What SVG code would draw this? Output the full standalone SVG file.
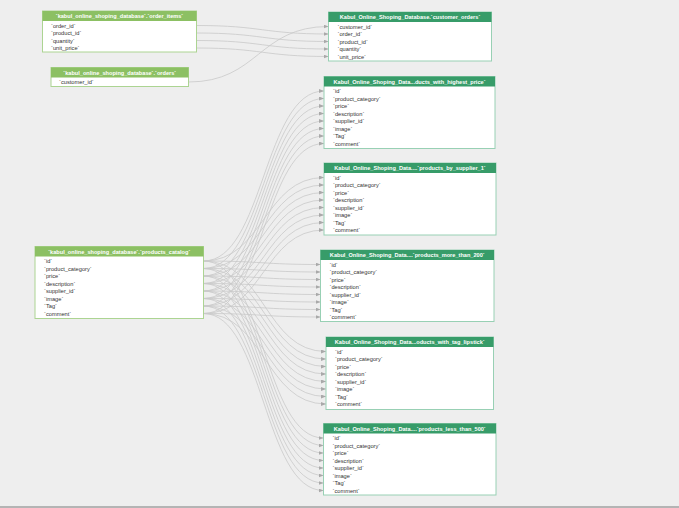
<svg xmlns="http://www.w3.org/2000/svg" width="679" height="508" viewBox="0 0 679 508">
<style>
.hdrL{fill:#8cc063}
.hdrR{fill:#379c69}
.bodyL{fill:#ffffff;stroke:#acd492;stroke-width:1}
.bodyR{fill:#ffffff;stroke:#98d0b4;stroke-width:1}
.ht{font-family:"Liberation Sans",Arial,sans-serif;font-size:5.6px;font-weight:bold;fill:#ffffff;text-anchor:middle}
.rt{font-family:"Liberation Sans",Arial,sans-serif;font-size:5.7px;fill:#333333}
.c{fill:none;stroke:#c9c9c9;stroke-width:0.8;marker-end:url(#arr)}
</style>
<defs>
<marker id="arr" markerWidth="5" markerHeight="4" refX="5" refY="2" orient="auto" markerUnits="userSpaceOnUse"><path d="M0,0 L5,2 L0,4 z" fill="#a9a9a9"/></marker>
</defs>
<rect x="0" y="0" width="679" height="508" fill="#eeeeee"/>
<rect x="0" y="506" width="679" height="2" fill="#b4b4b4"/>
<g id="connectors">
<path class="c" d="M196.5,25.5 C262.5,25.5 262.5,34 328.5,34"/>
<path class="c" d="M196.5,33 C262.5,33 262.5,41.5 328.5,41.5"/>
<path class="c" d="M196.5,40.5 C262.5,40.5 262.5,49 328.5,49"/>
<path class="c" d="M196.5,48 C262.5,48 262.5,56.5 328.5,56.5"/>
<path class="c" d="M188.5,82 C258.5,82 258.5,26.5 328.5,26.5"/>
<path class="c" d="M203.5,261 C263.75,261 263.75,91 324,91"/>
<path class="c" d="M203.5,268.5 C263.75,268.5 263.75,98.5 324,98.5"/>
<path class="c" d="M203.5,276 C263.75,276 263.75,106 324,106"/>
<path class="c" d="M203.5,283.5 C263.75,283.5 263.75,113.5 324,113.5"/>
<path class="c" d="M203.5,291 C263.75,291 263.75,121 324,121"/>
<path class="c" d="M203.5,298.5 C263.75,298.5 263.75,128.5 324,128.5"/>
<path class="c" d="M203.5,306 C263.75,306 263.75,136 324,136"/>
<path class="c" d="M203.5,313.5 C263.75,313.5 263.75,143.5 324,143.5"/>
<path class="c" d="M203.5,261 C263.75,261 263.75,177.5 324,177.5"/>
<path class="c" d="M203.5,268.5 C263.75,268.5 263.75,185 324,185"/>
<path class="c" d="M203.5,276 C263.75,276 263.75,192.5 324,192.5"/>
<path class="c" d="M203.5,283.5 C263.75,283.5 263.75,200 324,200"/>
<path class="c" d="M203.5,291 C263.75,291 263.75,207.5 324,207.5"/>
<path class="c" d="M203.5,298.5 C263.75,298.5 263.75,215 324,215"/>
<path class="c" d="M203.5,306 C263.75,306 263.75,222.5 324,222.5"/>
<path class="c" d="M203.5,313.5 C263.75,313.5 263.75,230 324,230"/>
<path class="c" d="M203.5,261 C262,261 262,264.5 320.5,264.5"/>
<path class="c" d="M203.5,268.5 C262,268.5 262,272 320.5,272"/>
<path class="c" d="M203.5,276 C262,276 262,279.5 320.5,279.5"/>
<path class="c" d="M203.5,283.5 C262,283.5 262,287 320.5,287"/>
<path class="c" d="M203.5,291 C262,291 262,294.5 320.5,294.5"/>
<path class="c" d="M203.5,298.5 C262,298.5 262,302 320.5,302"/>
<path class="c" d="M203.5,306 C262,306 262,309.5 320.5,309.5"/>
<path class="c" d="M203.5,313.5 C262,313.5 262,317 320.5,317"/>
<path class="c" d="M203.5,261 C264.75,261 264.75,351.5 326,351.5"/>
<path class="c" d="M203.5,268.5 C264.75,268.5 264.75,359 326,359"/>
<path class="c" d="M203.5,276 C264.75,276 264.75,366.5 326,366.5"/>
<path class="c" d="M203.5,283.5 C264.75,283.5 264.75,374 326,374"/>
<path class="c" d="M203.5,291 C264.75,291 264.75,381.5 326,381.5"/>
<path class="c" d="M203.5,298.5 C264.75,298.5 264.75,389 326,389"/>
<path class="c" d="M203.5,306 C264.75,306 264.75,396.5 326,396.5"/>
<path class="c" d="M203.5,313.5 C264.75,313.5 264.75,404 326,404"/>
<path class="c" d="M203.5,261 C263.5,261 263.5,438 323.5,438"/>
<path class="c" d="M203.5,268.5 C263.5,268.5 263.5,445.5 323.5,445.5"/>
<path class="c" d="M203.5,276 C263.5,276 263.5,453 323.5,453"/>
<path class="c" d="M203.5,283.5 C263.5,283.5 263.5,460.5 323.5,460.5"/>
<path class="c" d="M203.5,291 C263.5,291 263.5,468 323.5,468"/>
<path class="c" d="M203.5,298.5 C263.5,298.5 263.5,475.5 323.5,475.5"/>
<path class="c" d="M203.5,306 C263.5,306 263.5,483 323.5,483"/>
<path class="c" d="M203.5,313.5 C263.5,313.5 263.5,490.5 323.5,490.5"/>
</g>
<g id="order_items">
<rect class="bodyL" x="42.5" y="11" width="154" height="41"/>
<rect class="hdrL" x="42.5" y="11" width="154" height="10"/>
<text class="ht" x="119.5" y="18">`kabul_online_shoping_database`.`order_items`</text>
<text class="rt" x="51" y="27.5">`order_id`</text>
<text class="rt" x="51" y="35">`product_id`</text>
<text class="rt" x="51" y="42.5">`quantity`</text>
<text class="rt" x="51" y="50">`unit_price`</text>
</g>
<g id="orders">
<rect class="bodyL" x="51" y="67.5" width="137.5" height="19"/>
<rect class="hdrL" x="51" y="67.5" width="137.5" height="10"/>
<text class="ht" x="119.75" y="74.5">`kabul_online_shoping_database`.`orders`</text>
<text class="rt" x="59" y="84">`customer_id`</text>
</g>
<g id="customer_orders">
<rect class="bodyR" x="328.5" y="12" width="163" height="49"/>
<rect class="hdrR" x="328.5" y="12" width="163" height="10"/>
<text class="ht" x="410" y="19">Kabul_Online_Shoping_Database.`customer_orders`</text>
<text class="rt" x="337.5" y="28.5">`customer_id`</text>
<text class="rt" x="337.5" y="36">`order_id`</text>
<text class="rt" x="337.5" y="43.5">`product_id`</text>
<text class="rt" x="337.5" y="51">`quantity`</text>
<text class="rt" x="337.5" y="58.5">`unit_price`</text>
</g>
<g id="products_with_highest_price">
<rect class="bodyR" x="324" y="76.5" width="171" height="72"/>
<rect class="hdrR" x="324" y="76.5" width="171" height="10"/>
<text class="ht" x="409.5" y="83.5">Kabul_Online_Shoping_Data...ducts_with_highest_price`</text>
<text class="rt" x="333" y="93">`id`</text>
<text class="rt" x="333" y="100.5">`product_category`</text>
<text class="rt" x="333" y="108">`price`</text>
<text class="rt" x="333" y="115.5">`description`</text>
<text class="rt" x="333" y="123">`supplier_id`</text>
<text class="rt" x="333" y="130.5">`image`</text>
<text class="rt" x="333" y="138">`Tag`</text>
<text class="rt" x="333" y="145.5">`comment`</text>
</g>
<g id="products_by_supplier_1">
<rect class="bodyR" x="324" y="163" width="172" height="72"/>
<rect class="hdrR" x="324" y="163" width="172" height="10"/>
<text class="ht" x="410" y="170">Kabul_Online_Shoping_Data....`products_by_supplier_1`</text>
<text class="rt" x="333" y="179.5">`id`</text>
<text class="rt" x="333" y="187">`product_category`</text>
<text class="rt" x="333" y="194.5">`price`</text>
<text class="rt" x="333" y="202">`description`</text>
<text class="rt" x="333" y="209.5">`supplier_id`</text>
<text class="rt" x="333" y="217">`image`</text>
<text class="rt" x="333" y="224.5">`Tag`</text>
<text class="rt" x="333" y="232">`comment`</text>
</g>
<g id="products_more_than_200">
<rect class="bodyR" x="320.5" y="250" width="173.5" height="71.5"/>
<rect class="hdrR" x="320.5" y="250" width="173.5" height="10"/>
<text class="ht" x="407.25" y="257">Kabul_Online_Shoping_Data....`products_more_than_200`</text>
<text class="rt" x="329.5" y="266.5">`id`</text>
<text class="rt" x="329.5" y="274">`product_category`</text>
<text class="rt" x="329.5" y="281.5">`price`</text>
<text class="rt" x="329.5" y="289">`description`</text>
<text class="rt" x="329.5" y="296.5">`supplier_id`</text>
<text class="rt" x="329.5" y="304">`image`</text>
<text class="rt" x="329.5" y="311.5">`Tag`</text>
<text class="rt" x="329.5" y="319">`comment`</text>
</g>
<g id="products_with_tag_lipstick">
<rect class="bodyR" x="326" y="337" width="167.5" height="72.5"/>
<rect class="hdrR" x="326" y="337" width="167.5" height="10"/>
<text class="ht" x="409.75" y="344">Kabul_Online_Shoping_Data...oducts_with_tag_lipstick`</text>
<text class="rt" x="335" y="353.5">`id`</text>
<text class="rt" x="335" y="361">`product_category`</text>
<text class="rt" x="335" y="368.5">`price`</text>
<text class="rt" x="335" y="376">`description`</text>
<text class="rt" x="335" y="383.5">`supplier_id`</text>
<text class="rt" x="335" y="391">`image`</text>
<text class="rt" x="335" y="398.5">`Tag`</text>
<text class="rt" x="335" y="406">`comment`</text>
</g>
<g id="products_less_than_500">
<rect class="bodyR" x="323.5" y="423.5" width="172.5" height="71.5"/>
<rect class="hdrR" x="323.5" y="423.5" width="172.5" height="10"/>
<text class="ht" x="409.75" y="430.5">Kabul_Online_Shoping_Data....`products_less_than_500`</text>
<text class="rt" x="332.5" y="440">`id`</text>
<text class="rt" x="332.5" y="447.5">`product_category`</text>
<text class="rt" x="332.5" y="455">`price`</text>
<text class="rt" x="332.5" y="462.5">`description`</text>
<text class="rt" x="332.5" y="470">`supplier_id`</text>
<text class="rt" x="332.5" y="477.5">`image`</text>
<text class="rt" x="332.5" y="485">`Tag`</text>
<text class="rt" x="332.5" y="492.5">`comment`</text>
</g>
<g id="products_catalog">
<rect class="bodyL" x="35" y="246.5" width="168.5" height="72"/>
<rect class="hdrL" x="35" y="246.5" width="168.5" height="10"/>
<text class="ht" x="119.25" y="253.5">`kabul_online_shoping_database`.`products_catalog`</text>
<text class="rt" x="44" y="263">`id`</text>
<text class="rt" x="44" y="270.5">`product_category`</text>
<text class="rt" x="44" y="278">`price`</text>
<text class="rt" x="44" y="285.5">`description`</text>
<text class="rt" x="44" y="293">`supplier_id`</text>
<text class="rt" x="44" y="300.5">`image`</text>
<text class="rt" x="44" y="308">`Tag`</text>
<text class="rt" x="44" y="315.5">`comment`</text>
</g>
</svg>
